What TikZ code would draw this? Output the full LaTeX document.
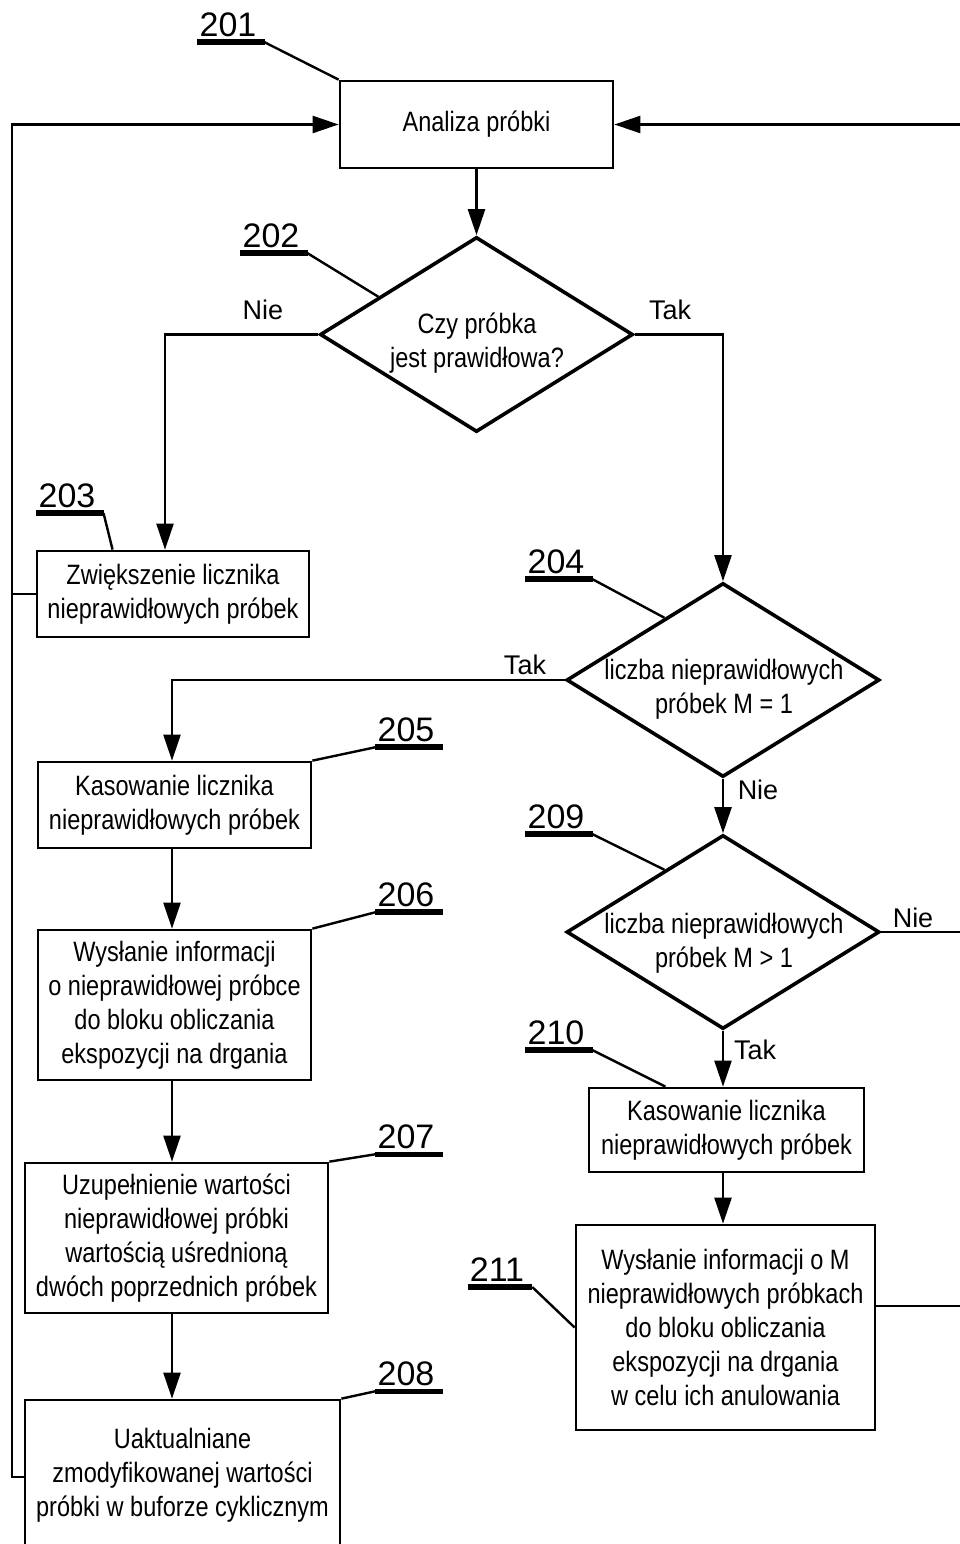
\documentclass[tikz,border=0pt]{standalone}
\usepackage{fontspec}
\setmainfont{Liberation Sans}[FakeStretch=0.84]
\newfontfamily\numfont{Liberation Sans}
\usetikzlibrary{shapes.geometric,arrows.meta,calc}
\tikzset{
  box/.style={draw, line width=2.7pt, inner sep=0pt, align=center, font=\fontsize{28}{34}\selectfont},
  dia/.style={draw, diamond, line width=3.6pt, inner sep=0pt},
  dtxt/.style={align=center, inner sep=0pt, font=\fontsize{28}{34}\selectfont},
  num/.style={inner sep=0pt, font=\numfont\fontsize{34}{34}\selectfont},
  yn/.style={inner sep=0pt, font=\numfont\fontsize{27}{27}\selectfont},
  refline/.style={line width=5.5pt},
  lead/.style={line width=2.4pt},
  conn/.style={line width=2.3pt},
  flow/.style={line width=2.3pt, -{Triangle[length=26pt,width=17pt]}},
}
\begin{document}
\begin{tikzpicture}[x=1pt,y=-1pt]
\useasboundingbox (0,0) rectangle (959,1544);
% boxes
\node[box, minimum width=273pt, minimum height=87pt] (b201) at (476.5,124.5) {Analiza próbki};
\node[dia, minimum width=313pt, minimum height=195pt] (d202) at (476.5,334.5) {};
\node[dtxt] (t202) at (477,343) {Czy próbka\\jest prawidłowa?};
\node[box, minimum width=272pt, minimum height=86pt] (b203) at (173,594) {Zwiększenie licznika\\nieprawidłowych próbek};
\node[dia, minimum width=313pt, minimum height=194pt] (d204) at (723,680) {};
\node[dtxt] (t204) at (724,689) {liczba nieprawidłowych\\próbek M = 1};
\node[box, minimum width=273pt, minimum height=86pt] (b205) at (174.5,805) {Kasowanie licznika\\nieprawidłowych próbek};
\node[box, minimum width=273pt, minimum height=150pt] (b206) at (174.5,1005) {Wysłanie informacji\\o nieprawidłowej próbce\\do bloku obliczania\\ekspozycji na drgania};
\node[box, minimum width=303pt, minimum height=150pt] (b207) at (176.5,1238) {Uzupełnienie wartości\\nieprawidłowej próbki\\wartością uśrednioną\\dwóch poprzednich próbek};
\node[box, minimum width=315pt, minimum height=150pt] (b208) at (182.5,1475) {Uaktualniane\\zmodyfikowanej wartości\\próbki w buforze cyklicznym};
\node[dia, minimum width=313pt, minimum height=194pt] (d209) at (723,932) {};
\node[dtxt] (t209) at (724,943) {liczba nieprawidłowych\\próbek M > 1};
\node[box, minimum width=275pt, minimum height=84pt] (b210) at (726.5,1130) {Kasowanie licznika\\nieprawidłowych próbek};
\node[box, minimum width=299pt, minimum height=205pt] (b211) at (725.5,1327.5) {Wysłanie informacji o M\\nieprawidłowych próbkach\\do bloku obliczania\\ekspozycji na drgania\\w celu ich anulowania};
% feedback columns
\coordinate (ll) at (12,0);
\coordinate (rr) at (963,0);
% flows
\draw[flow] (b201.south) -- (d202.north);
\draw[flow] (d202.west) -| ([xshift=-8pt]b203.north);
\draw[flow] (d202.east) -| (d204.north);
\draw[flow] (d204.west) -| ([xshift=-2.5pt]b205.north);
\draw[flow] ([xshift=-2.5pt]b205.south) -- ([xshift=-2.5pt]b206.north);
\draw[flow] ([xshift=-2.5pt]b206.south) -- ([xshift=-2.5pt]b206.south |- b207.north);
\draw[flow] ([xshift=-2.5pt]b206.south |- b207.south) -- ([xshift=-2.5pt]b206.south |- b208.north);
\draw[flow] (d204.south) -- (d209.north);
\draw[flow] (d209.south) -- (d209.south |- b210.north);
\draw[flow] (d209.south |- b210.south) -- (d209.south |- b211.north);
\draw[flow] ([yshift=-2pt]b208.west) -- ([yshift=-2pt]b208.west -| ll) |- (b201.west);
\draw[conn] (b203.west) -- (b203.west -| ll);
\draw[flow] ([yshift=21.5pt]b211.east) -- ([yshift=21.5pt]b211.east -| rr) |- (b201.east);
\draw[conn] (d209.east) -- (d209.east -| rr);
% yes / no labels
\node[yn] (y1) at (263,310) {Nie};
\node[yn] (y2) at (670,310) {Tak};
\node[yn] (y3) at (525,665) {Tak};
\node[yn] (y4) at (758,790) {Nie};
\node[yn] (y5) at (913,918) {Nie};
\node[yn] (y6) at (755,1050) {Tak};
% reference numbers
\node[num] (n201) at (228,25) {201};
\node[num] (n202) at (271,236) {202};
\node[num] (n203) at (67,496) {203};
\node[num] (n204) at (556,562) {204};
\node[num] (n205) at (406,730) {205};
\node[num] (n206) at (406,895) {206};
\node[num] (n207) at (406,1137) {207};
\node[num] (n208) at (406,1374) {208};
\node[num] (n209) at (556,817) {209};
\node[num] (n210) at (556,1033) {210};
\node[num] (n211) at (497,1270) {211};
\foreach \n in {201,202,203,204,205,206,207,208,209,210,211}{
  \draw[refline] ([xshift=-2pt,yshift=-5pt]n\n.south west) -- ([xshift=8pt,yshift=-5pt]n\n.south east);
}
\draw[lead] ([xshift=8pt,yshift=-5pt]n201.south east) -- (b201.north west);
\draw[lead] ([xshift=8pt,yshift=-5pt]n202.south east) -- ($(d202.west)!0.38!(d202.north)$);
\draw[lead] ([xshift=8pt,yshift=-5pt]n203.south east) -- ($(b203.north west)!0.28!(b203.north east)$);
\draw[lead] ([xshift=8pt,yshift=-5pt]n204.south east) -- ($(d204.west)!0.63!(d204.north)$);
\draw[lead] ([xshift=-2pt,yshift=-5pt]n205.south west) -- (b205.north east);
\draw[lead] ([xshift=-2pt,yshift=-5pt]n206.south west) -- (b206.north east);
\draw[lead] ([xshift=-2pt,yshift=-5pt]n207.south west) -- (b207.north east);
\draw[lead] ([xshift=-2pt,yshift=-5pt]n208.south west) -- (b208.north east);
\draw[lead] ([xshift=8pt,yshift=-5pt]n209.south east) -- ($(d209.west)!0.63!(d209.north)$);
\draw[lead] ([xshift=8pt,yshift=-5pt]n210.south east) -- ($(b210.north west)!0.28!(b210.north east)$);
\draw[lead] ([xshift=8pt,yshift=-5pt]n211.south east) -- (b211.west);
\end{tikzpicture}
\end{document}
